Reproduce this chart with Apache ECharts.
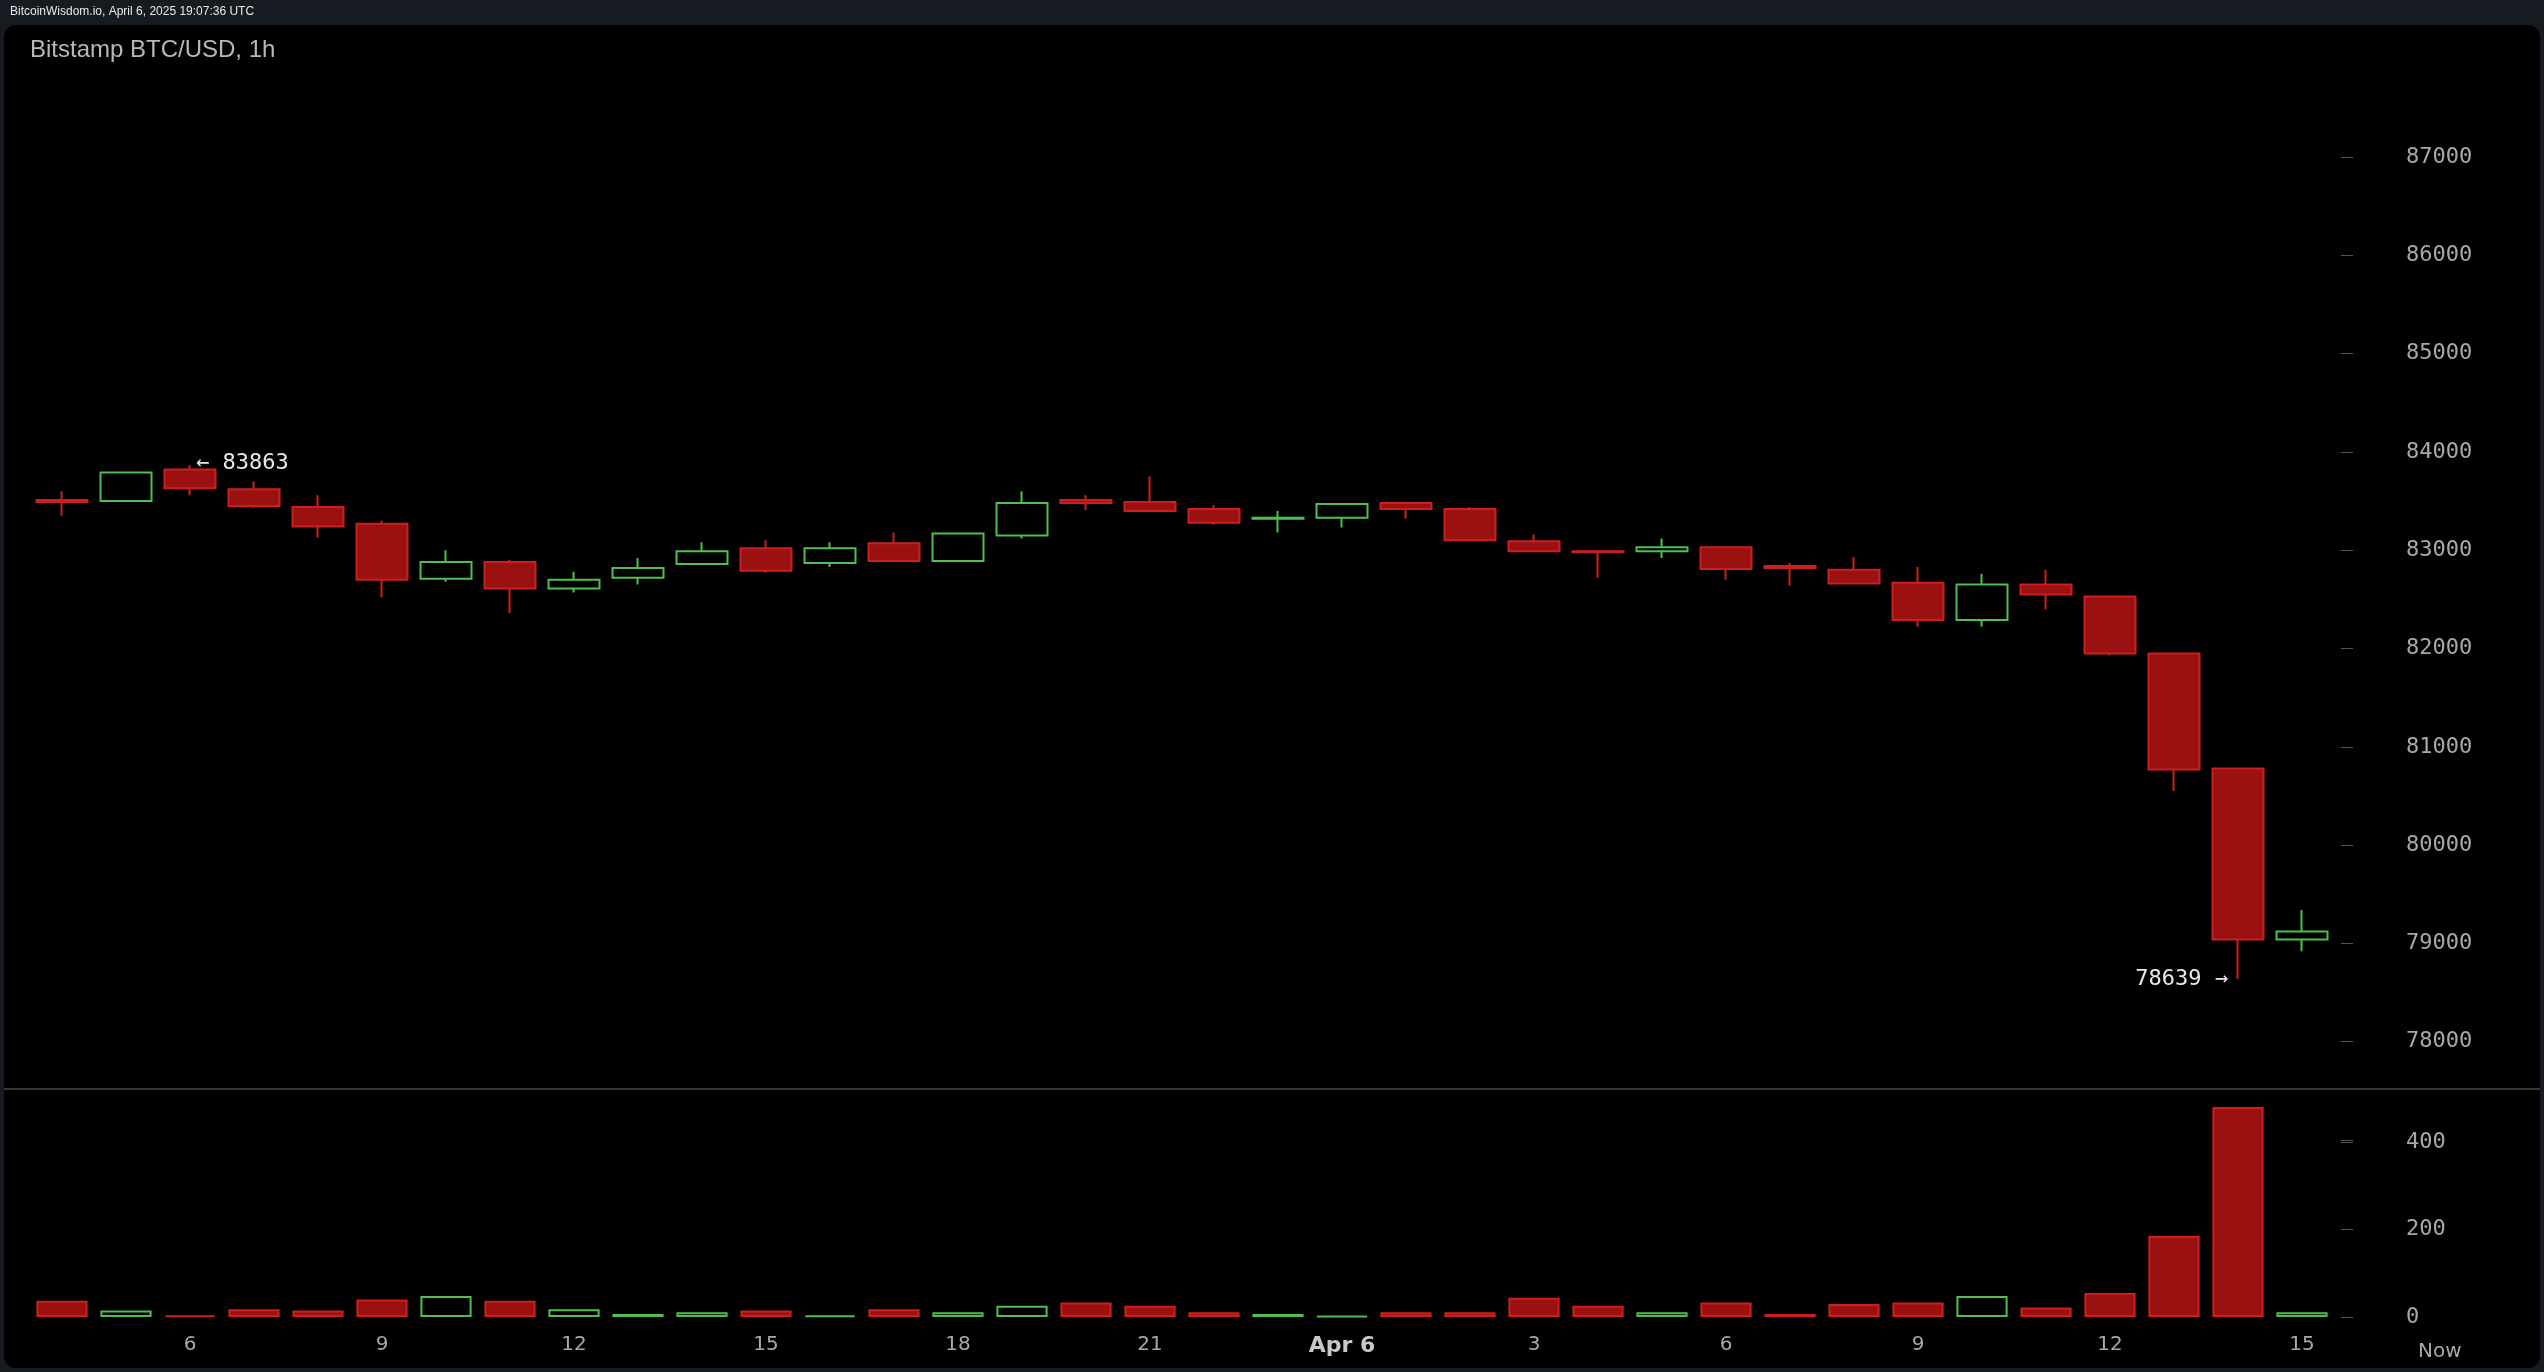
<!DOCTYPE html>
<html>
<head>
<meta charset="utf-8">
<script src="https://cdn.jsdelivr.net/npm/echarts@6/dist/echarts.min.js"></script>
<style>
  html, body { margin: 0; padding: 0; background: #161b22; }
  #main { width: 2544px; height: 1372px; }
</style>
</head>
<body>
<div id="main"></div>
<script>
// hours, Apr 5 04:00 -> Apr 6 15:00 UTC
var hours = [4,5,6,7,8,9,10,11,12,13,14,15,16,17,18,19,20,21,22,23,0,1,2,3,4,5,6,7,8,9,10,11,12,13,14,15];
// open, close, low, high
var opens  = [83510,83500,83820,83620,83440,83270,82710,82880,82610,82720,82860,83020,82870,83070,82890,83150,83510,83490,83420,83320,83330,83480,83420,83090,82990,82990,83030,82840,82800,82670,82290,82650,82530,81950,80780,79040];
var closes = [83490,83790,83630,83450,83240,82700,82880,82610,82700,82820,82990,82790,83020,82890,83170,83480,83480,83400,83280,83330,83470,83420,83100,82990,82980,83030,82810,82820,82660,82290,82650,82550,81950,80770,79040,79120];
var lows   = [83350,83500,83560,83430,83130,82520,82680,82360,82570,82650,82850,82770,82830,82890,82890,83120,83410,83400,83260,83180,83230,83320,83100,82990,82720,82920,82700,82640,82650,82220,82220,82400,81930,80550,78639,78920];
var highs  = [83600,83790,83863,83700,83560,83300,83000,82900,82780,82920,83080,83100,83080,83180,83170,83600,83560,83750,83460,83400,83470,83480,83440,83160,83000,83120,83030,82870,82930,82830,82760,82800,82530,81950,80780,79340];
var volumes = [37,15,4,18,15,40,48,37,18,7,11,15,4,18,11,26,33,26,11,7,2,11,11,44,26,11,33,7,30,33,48,22,55,185,480,11];

var RED_FILL = '#9b1010', RED_LINE = '#cc2020', GREEN_LINE = '#4fc04f';
var labelFont = { color: '#a8a8a8', fontFamily: 'DejaVu Sans Mono', fontSize: 22 };

var cats = hours.map(function (h, i) { return String(i); });
var candleData = hours.map(function (h, i) { return [opens[i], closes[i], lows[i], highs[i]]; });
var volData = volumes.map(function (v, i) {
  var up = closes[i] >= opens[i];
  return { value: v, itemStyle: { color: up ? '#000' : RED_FILL, borderColor: up ? GREEN_LINE : RED_LINE, borderWidth: 2 } };
});

function xLabel(idx) {
  var h = hours[idx];
  if (h % 3 !== 0) return '';
  if (h === 0) return '{b|Apr 6}';
  return String(h);
}

var myChart = echarts.init(document.getElementById('main'));
var option = {
  backgroundColor: '#161b22',
  animation: false,
  graphic: [
    { type: 'rect', shape: { x: 4, y: 25, width: 2536, height: 1343, r: 12 }, style: { fill: '#000' }, z: -10 },
    { type: 'text', left: 10, top: 6, style: { text: 'BitcoinWisdom.io, April 6, 2025 19:07:36 UTC', fill: '#e8e8e8', font: '12px Liberation Sans' } },
    { type: 'text', left: 30, top: 38, style: { text: 'Bitstamp BTC/USD, 1h', fill: '#b8b8b8', font: '24px Liberation Sans' } },
    { type: 'line', shape: { x1: 4, y1: 1089, x2: 2540, y2: 1089 }, style: { stroke: '#4a4a4a', lineWidth: 1.5 } },
    { type: 'text', left: 2418, top: 1342, style: { text: 'Now', fill: '#a8a8a8', font: '20px DejaVu Sans' } }
  ],
  grid: [
    { left: 30, right: 210, top: 157, height: 983 },
    { left: 30, right: 210, top: 1142, height: 175 }
  ],
  xAxis: [
    { type: 'category', gridIndex: 0, data: cats, axisLine: { show: false }, axisTick: { show: false }, axisLabel: { show: false }, splitLine: { show: false } },
    { type: 'category', gridIndex: 1, data: cats, axisLine: { show: false },
      axisTick: { show: false },
      axisLabel: { interval: 0, margin: 18, color: '#a8a8a8', fontFamily: 'DejaVu Sans', fontSize: 20,
        formatter: function (v, idx) { return xLabel(idx); },
        rich: { b: { color: '#c8c8c8', fontFamily: 'DejaVu Sans', fontSize: 22, fontWeight: 'bold' } } } }
  ],
  yAxis: [
    { type: 'value', gridIndex: 0, position: 'right', offset: 19, min: 77000, max: 87000, interval: 1000,
      axisLine: { show: false }, splitLine: { show: false },
      axisTick: { show: true, inside: true, length: 12, lineStyle: { color: '#555' } },
      axisLabel: Object.assign({ margin: 53, formatter: function (v) { return v >= 78000 ? String(v) : ''; } }, labelFont) },
    { type: 'value', gridIndex: 1, position: 'right', offset: 19, min: 0, max: 400, interval: 200,
      axisLine: { show: false }, splitLine: { show: false },
      axisTick: { show: true, inside: true, length: 12, lineStyle: { color: '#555' } },
      axisLabel: Object.assign({ margin: 53 }, labelFont) }
  ],
  series: [
    { type: 'candlestick', xAxisIndex: 0, yAxisIndex: 0, data: candleData, barWidth: '80%', clip: false,
      itemStyle: { color: '#000', color0: RED_FILL, borderColor: GREEN_LINE, borderColor0: RED_LINE, borderWidth: 2 },
      markPoint: {
        symbol: 'circle', symbolSize: 0,
        data: [
          { coord: ['2', 83863], label: { show: true, position: 'right', distance: 6, formatter: '← 83863', color: '#e8e8e8', fontFamily: 'DejaVu Sans Mono', fontSize: 22, offset: [0, -2] } },
          { coord: ['34', 78639], label: { show: true, position: 'left', distance: 10, formatter: '78639 →', color: '#e8e8e8', fontFamily: 'DejaVu Sans Mono', fontSize: 22 } }
        ]
      } },
    { type: 'bar', xAxisIndex: 1, yAxisIndex: 1, data: volData, barWidth: '80%', clip: false }
  ]
};
myChart.setOption(option);
</script>
</body>
</html>
